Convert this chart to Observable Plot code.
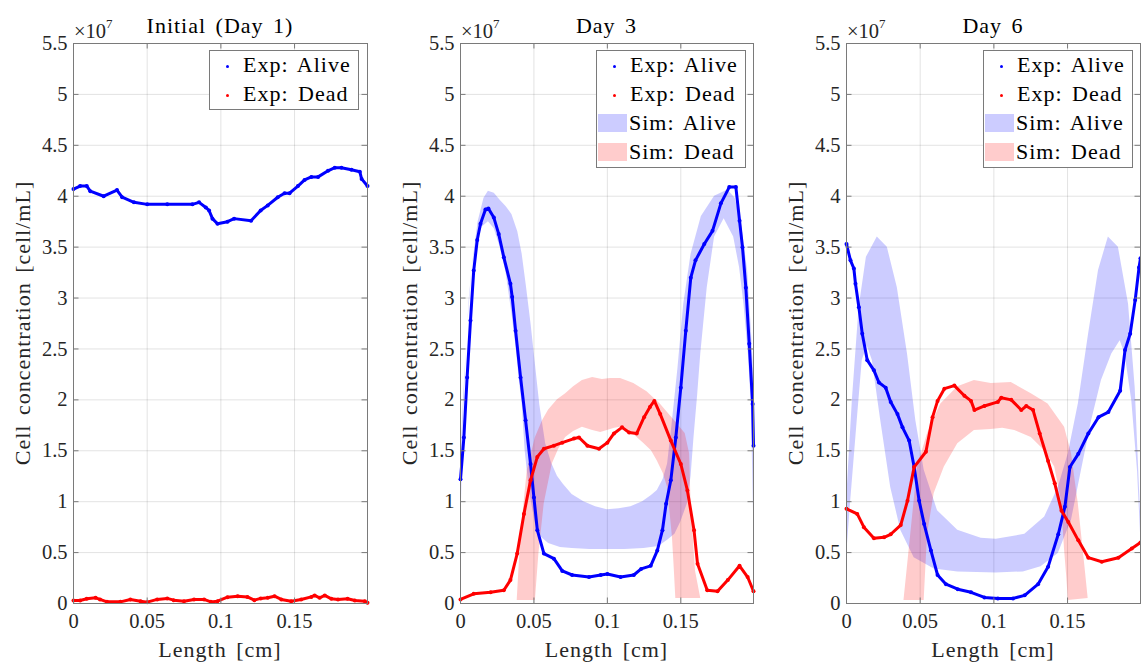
<!DOCTYPE html>
<html>
<head>
<meta charset="utf-8">
<script src="https://cdn.jsdelivr.net/npm/d3@7"></script>
<script src="https://cdn.jsdelivr.net/npm/@observablehq/plot@0.6"></script>
<style>
  body { margin: 0; background: #fff; }
  #root { position: relative; width: 1141px; height: 662px; overflow: hidden;
          font-family: "Liberation Serif", "DejaVu Serif", serif; color: #000; }
  #root svg { position: absolute; top: 0; overflow: visible; }
  .abs { position: absolute; white-space: nowrap; font-family: "Liberation Serif", "DejaVu Serif", serif; }
  .big { font-size: 22px; line-height: 22px; letter-spacing: 1px; word-spacing: 3px; }
  .exp { font-size: 20.5px; line-height: 22px; color: #262626; }
  .exp sup { font-size: 13px; position: relative; top: -2px; }
  .legbox { position: absolute; background: #fff; border: 1px solid #7a7a7a; box-sizing: border-box; }
</style>
</head>
<body>
<div id="root"></div>
<script>
// ---------- tick labels ----------
const xTicks = [0, 0.05, 0.1, 0.15];
const yTicks = [0, 0.5, 1, 1.5, 2, 2.5, 3, 3.5, 4, 4.5, 5, 5.5];
const panelTitles = ["Initial (Day 1)", "Day 3", "Day 6"];
const legendLabels = ["Exp: Alive", "Exp: Dead", "Sim: Alive", "Sim: Dead"];

// ---------- Day 1 experimental [x (cm), concentration (x1e7 cell/mL)] ----------
const day1Alive = [[0,4.07],[0.0045,4.1],[0.009,4.1],[0.0114,4.05],[0.0205,4.0],[0.0295,4.06],[0.033,3.99],[0.041,3.94],[0.05,3.92],[0.0636,3.92],[0.0807,3.92],[0.0852,3.94],[0.0898,3.89],[0.092,3.86],[0.0943,3.78],[0.0977,3.73],[0.1045,3.75],[0.109,3.78],[0.1205,3.76],[0.127,3.86],[0.1318,3.91],[0.1386,3.99],[0.1432,4.03],[0.1466,4.03],[0.1523,4.1],[0.1568,4.16],[0.1614,4.19],[0.166,4.19],[0.1727,4.25],[0.1773,4.28],[0.1818,4.28],[0.1886,4.26],[0.1943,4.24],[0.1955,4.17],[0.1995,4.1]];
const day1Dead = [[0,0.03],[0.0045,0.03],[0.009,0.046],[0.015,0.056],[0.018,0.04],[0.0227,0.016],[0.0318,0.016],[0.0386,0.04],[0.0455,0.023],[0.05,0.013],[0.0568,0.04],[0.0636,0.05],[0.068,0.033],[0.075,0.023],[0.0818,0.04],[0.0886,0.04],[0.0932,0.016],[0.0977,0.023],[0.1045,0.062],[0.1114,0.072],[0.118,0.065],[0.1227,0.033],[0.127,0.05],[0.1318,0.056],[0.1364,0.072],[0.141,0.04],[0.1477,0.023],[0.1545,0.04],[0.1614,0.065],[0.1636,0.079],[0.167,0.056],[0.1705,0.079],[0.175,0.046],[0.1795,0.04],[0.186,0.046],[0.1909,0.03],[0.1977,0.023],[0.1995,0.007]];

// ---------- Day 3 experimental ----------
const day3Alive = [[0,1.22],[0.0023,1.63],[0.0045,2.22],[0.0068,2.78],[0.009,3.27],[0.0114,3.57],[0.0136,3.73],[0.017,3.87],[0.019,3.88],[0.0227,3.79],[0.026,3.63],[0.0295,3.4],[0.034,3.14],[0.0352,3.01],[0.0375,2.68],[0.0409,2.22],[0.0443,1.8],[0.0477,1.37],[0.05,1.04],[0.0523,0.72],[0.0568,0.49],[0.0636,0.44],[0.0693,0.32],[0.076,0.28],[0.0875,0.26],[0.0955,0.28],[0.1,0.29],[0.109,0.26],[0.118,0.28],[0.123,0.34],[0.1295,0.37],[0.134,0.52],[0.1375,0.72],[0.14,0.98],[0.1432,1.21],[0.1466,1.63],[0.15,2.12],[0.1534,2.68],[0.1568,3.2],[0.16,3.37],[0.166,3.53],[0.1716,3.66],[0.1773,3.93],[0.183,4.09],[0.1875,4.09],[0.19,3.76],[0.192,3.5],[0.1943,3.1],[0.1966,2.55],[0.1989,1.96],[0.1995,1.55]];
const day3Dead = [[0,0.04],[0.009,0.095],[0.0205,0.11],[0.0295,0.13],[0.034,0.23],[0.0386,0.49],[0.0432,0.88],[0.0477,1.21],[0.0523,1.44],[0.0568,1.52],[0.0636,1.55],[0.0693,1.58],[0.0773,1.62],[0.0807,1.63],[0.0864,1.55],[0.0943,1.52],[0.1,1.58],[0.1045,1.67],[0.11,1.73],[0.1148,1.68],[0.12,1.67],[0.125,1.83],[0.129,1.93],[0.132,1.99],[0.136,1.86],[0.1432,1.6],[0.15,1.37],[0.1545,1.11],[0.159,0.72],[0.1614,0.39],[0.168,0.13],[0.175,0.12],[0.182,0.23],[0.19,0.37],[0.1955,0.26],[0.1995,0.12]];

// ---------- Day 3 simulation envelopes (upper / lower edge) ----------
const day3SimAliveHi = [[0,1.3],[0.002,2.0],[0.005,2.75],[0.008,3.3],[0.012,3.75],[0.016,3.98],[0.019,4.05],[0.023,4.03],[0.027,3.96],[0.031,3.9],[0.035,3.82],[0.039,3.65],[0.042,3.43],[0.045,3.1],[0.048,2.75],[0.051,2.35],[0.054,1.95],[0.058,1.57],[0.062,1.38],[0.066,1.25],[0.07,1.17],[0.076,1.07],[0.084,1.0],[0.092,0.95],[0.1,0.92],[0.108,0.93],[0.116,0.95],[0.124,1.0],[0.13,1.06],[0.134,1.11],[0.138,1.22],[0.141,1.37],[0.144,1.75],[0.148,2.3],[0.152,2.94],[0.157,3.43],[0.164,3.8],[0.173,4.0],[0.182,4.06],[0.187,3.98],[0.191,3.76],[0.1955,3.27],[0.198,2.7],[0.1995,2.3]];
const day3SimAliveLo = [[0,0.6],[0.002,1.8],[0.004,2.5],[0.006,3.0],[0.008,3.3],[0.011,3.55],[0.015,3.7],[0.019,3.75],[0.023,3.68],[0.027,3.5],[0.031,3.25],[0.035,2.85],[0.038,2.5],[0.04,2.2],[0.042,1.96],[0.044,1.5],[0.047,1.1],[0.051,0.78],[0.055,0.65],[0.06,0.59],[0.068,0.55],[0.076,0.54],[0.088,0.53],[0.1,0.53],[0.112,0.53],[0.125,0.54],[0.135,0.56],[0.141,0.62],[0.146,0.68],[0.15,0.8],[0.1545,0.98],[0.157,1.25],[0.159,1.63],[0.1615,2.05],[0.1636,2.45],[0.168,3.1],[0.173,3.6],[0.1795,3.78],[0.186,3.6],[0.19,3.3],[0.193,2.94],[0.196,2.45],[0.198,1.96],[0.1995,0.9]];
const day3SimDeadHi = [[0.0386,0.03],[0.041,0.65],[0.0455,1.31],[0.051,1.63],[0.056,1.8],[0.06,1.9],[0.066,2.0],[0.0716,2.06],[0.077,2.13],[0.083,2.19],[0.09,2.22],[0.0966,2.2],[0.102,2.21],[0.109,2.21],[0.118,2.16],[0.127,2.08],[0.136,1.96],[0.1455,1.8],[0.153,1.67],[0.156,1.47],[0.157,0.98],[0.16,0.32],[0.1636,0.05]];
const day3SimDeadLo = [[0.051,0.03],[0.0534,0.49],[0.057,0.98],[0.0625,1.37],[0.067,1.52],[0.0716,1.63],[0.077,1.69],[0.083,1.73],[0.09,1.7],[0.0955,1.68],[0.1,1.7],[0.105,1.72],[0.109,1.73],[0.114,1.7],[0.118,1.66],[0.125,1.57],[0.13,1.5],[0.134,1.4],[0.138,1.28],[0.141,1.14],[0.1443,0.65],[0.1455,0.35],[0.1466,0.05]];

// ---------- Day 6 experimental ----------
const day6Alive = [[0,3.53],[0.0027,3.37],[0.005,3.29],[0.0061,3.14],[0.0084,2.91],[0.0107,2.65],[0.0141,2.39],[0.0186,2.29],[0.022,2.17],[0.0266,2.12],[0.03,1.98],[0.0346,1.86],[0.038,1.73],[0.0425,1.6],[0.0459,1.34],[0.0493,1.01],[0.0527,0.78],[0.0573,0.52],[0.0618,0.28],[0.0675,0.19],[0.0755,0.14],[0.0845,0.11],[0.0936,0.06],[0.1027,0.05],[0.113,0.05],[0.1209,0.08],[0.13,0.19],[0.1368,0.36],[0.1437,0.68],[0.1482,0.95],[0.1516,1.34],[0.1573,1.47],[0.1641,1.67],[0.171,1.83],[0.1777,1.88],[0.1857,2.09],[0.189,2.49],[0.1925,2.65],[0.1959,2.98],[0.1985,3.3],[0.1995,3.39]];
const day6Dead = [[0,0.93],[0.0073,0.88],[0.0118,0.75],[0.0186,0.64],[0.0255,0.65],[0.03,0.68],[0.0368,0.77],[0.0414,1.01],[0.0459,1.34],[0.0539,1.49],[0.0584,1.83],[0.0618,1.99],[0.0664,2.11],[0.0732,2.14],[0.08,2.04],[0.0845,1.99],[0.0868,1.9],[0.0936,1.94],[0.1027,1.98],[0.105,2.02],[0.1118,2.0],[0.1186,1.9],[0.122,1.94],[0.1266,1.9],[0.1311,1.67],[0.1368,1.4],[0.1413,1.18],[0.1459,0.91],[0.1505,0.8],[0.1573,0.62],[0.1641,0.45],[0.1732,0.41],[0.1845,0.45],[0.1936,0.54],[0.1995,0.6]];

// ---------- Day 6 simulation envelopes ----------
const day6SimAliveHi = [[0,1.0],[0.004,2.0],[0.0085,2.9],[0.0135,3.4],[0.0209,3.6],[0.0277,3.5],[0.0345,3.1],[0.0414,2.45],[0.047,1.8],[0.0527,1.31],[0.0618,0.91],[0.0755,0.72],[0.0914,0.64],[0.1016,0.63],[0.121,0.68],[0.1345,0.85],[0.1437,1.14],[0.1505,1.47],[0.1573,1.96],[0.164,2.62],[0.171,3.27],[0.1777,3.6],[0.1845,3.5],[0.1914,2.94],[0.1959,2.12],[0.1995,0.9]];
const day6SimAliveLo = [[0,0.45],[0.0027,0.98],[0.0073,1.8],[0.0107,2.39],[0.0141,2.53],[0.0175,2.39],[0.0232,1.8],[0.03,1.14],[0.0368,0.72],[0.0459,0.45],[0.0595,0.34],[0.0755,0.31],[0.1016,0.3],[0.12,0.31],[0.132,0.36],[0.1437,0.49],[0.1527,0.82],[0.1595,1.31],[0.1664,1.8],[0.173,2.19],[0.18,2.45],[0.1857,2.58],[0.189,2.45],[0.1936,1.99],[0.1975,1.3],[0.1995,0.69]];
const day6SimDeadHi = [[0.039,0.03],[0.0436,0.68],[0.0482,1.34],[0.055,1.67],[0.064,1.96],[0.0755,2.13],[0.0868,2.19],[0.0982,2.16],[0.1118,2.17],[0.1254,2.06],[0.1368,1.96],[0.148,1.73],[0.1527,1.47],[0.1573,0.98],[0.1618,0.36],[0.164,0.05]];
const day6SimDeadLo = [[0.0527,0.03],[0.055,0.68],[0.0595,1.08],[0.0664,1.34],[0.0755,1.57],[0.0868,1.7],[0.0982,1.71],[0.106,1.72],[0.1141,1.7],[0.1254,1.63],[0.1345,1.5],[0.1413,1.34],[0.1459,1.01],[0.148,0.52],[0.1495,0.25],[0.1505,0.03]];

// ---------- layout ----------
const H = 662, MT = 43, MB = 59, ML = 73;
const FONT = '"Liberation Serif", "DejaVu Serif", serif';
const panels = [
  { title: panelTitles[0], left: 0,   width: 380, mr: 13, alive: day1Alive, dead: day1Dead, sim: null, legLeft: 209 - 0 },
  { title: panelTitles[1], left: 387, width: 380, mr: 14, alive: day3Alive, dead: day3Dead,
    sim: [day3SimAliveHi, day3SimAliveLo, day3SimDeadHi, day3SimDeadLo], legLeft: 596 - 387 },
  { title: panelTitles[2], left: 773, width: 368, mr: 1,  alive: day6Alive, dead: day6Dead,
    sim: [day6SimAliveHi, day6SimAliveLo, day6SimDeadHi, day6SimDeadLo], legLeft: 983 - 773 }
];
const BLUE = "#0000ff", RED = "#ff0000", AXC = "#7a7a7a";
const root = document.getElementById("root");

function band(hi, lo, color) {
  const rows = hi.map((p, i) => ({ x1: p[0], y1: p[1], x2: lo[i][0], y2: lo[i][1] }));
  return Plot.area(rows, { x1: "x1", y1: "y1", x2: "x2", y2: "y2", fill: color, fillOpacity: 0.2 });
}

function el(cls, html, style) {
  const d = document.createElement("div");
  d.className = cls;
  d.innerHTML = html;
  Object.assign(d.style, style);
  root.appendChild(d);
  return d;
}

for (const p of panels) {
  const plotW = p.width - ML - p.mr;
  const plotH = H - MT - MB;
  const marks = [
    Plot.gridX(xTicks, { stroke: "#262626", strokeOpacity: 0.13 }),
    Plot.gridY(yTicks, { stroke: "#262626", strokeOpacity: 0.13 })
  ];
  if (p.sim) {
    marks.push(band(p.sim[0], p.sim[1], BLUE));
    marks.push(band(p.sim[2], p.sim[3], RED));
  }
  marks.push(
    Plot.line(p.alive, { x: d => d[0], y: d => d[1], stroke: BLUE, strokeWidth: 3, strokeLinejoin: "round" }),
    Plot.dot(p.alive, { x: d => d[0], y: d => d[1], fill: BLUE, r: 2 }),
    Plot.line(p.dead,  { x: d => d[0], y: d => d[1], stroke: RED,  strokeWidth: 3, strokeLinejoin: "round" }),
    Plot.dot(p.dead, { x: d => d[0], y: d => d[1], fill: RED, r: 2 }),
    // inward tick marks on all four sides (MATLAB box style)
    Plot.tickX(xTicks, { x: d => d, insetTop: plotH - 5.5, stroke: AXC }),
    Plot.tickX(xTicks, { x: d => d, insetBottom: plotH - 5.5, stroke: AXC }),
    Plot.tickY(yTicks, { y: d => d, insetRight: plotW - 5.5, stroke: AXC }),
    Plot.tickY(yTicks, { y: d => d, insetLeft: plotW - 5.5, stroke: AXC }),
    Plot.axisX(xTicks, { tickSize: 0, tickPadding: 10, tickFormat: d => String(d), label: null, fontFamily: FONT }),
    Plot.axisY(yTicks, { tickSize: 0, tickPadding: 6, tickFormat: d => String(d), label: null, fontFamily: FONT }),
    Plot.frame({ stroke: AXC, strokeWidth: 1 })
  );
  const svg = Plot.plot({
    width: p.width, height: H,
    marginTop: MT, marginBottom: MB, marginLeft: ML, marginRight: p.mr,
    x: { domain: [0, 0.1995] },
    y: { domain: [0, 5.5] },
    style: { fontFamily: FONT, fontSize: "20.5px", color: "#262626", background: "transparent" },
    marks
  });
  svg.style.left = p.left + "px";
  root.appendChild(svg);

  const x0 = p.left + ML, cx = x0 + plotW / 2;
  el("abs big", p.title, { left: cx + "px", top: "15px", transform: "translateX(-50%)" });
  el("abs exp", "&times;10<sup>7</sup>", { left: (x0 + 1) + "px", top: "15px" });
  el("abs big", "Length [cm]", { left: cx + "px", top: "639px", transform: "translateX(-50%)", color: "#262626" });
  el("abs big", "Cell concentration [cell/mL]", { left: (x0 - 50) + "px", top: (MT + plotH / 2) + "px",
    transform: "translate(-50%,-50%) rotate(-90deg)", color: "#262626" });

  // legend
  const n = p.sim ? 4 : 2;
  const lx = p.left + p.legLeft, ly = 50;
  el("legbox", "", { left: lx + "px", top: ly + "px", width: "150px", height: (n === 4 ? 118 : 60) + "px" });
  const baselines = [72, 101, 130, 159];
  for (let i = 0; i < n; i++) {
    const bl = baselines[i];
    if (i < 2) {
      el("abs", "", { left: (lx + 16.5) + "px", top: (bl - 7.5) + "px", width: "3.5px", height: "3.5px",
        borderRadius: "50%", background: i === 0 ? BLUE : RED });
    } else {
      el("abs", "", { left: (lx + 2) + "px", top: (bl - 16) + "px", width: "29px", height: "18px",
        background: i === 2 ? "rgba(0,0,255,0.2)" : "rgba(255,0,0,0.2)" });
    }
    el("abs big", legendLabels[i], { left: (lx + (i < 2 ? 34 : 33)) + "px", top: (bl - 18.5) + "px" });
  }
}
</script>
</body>
</html>
